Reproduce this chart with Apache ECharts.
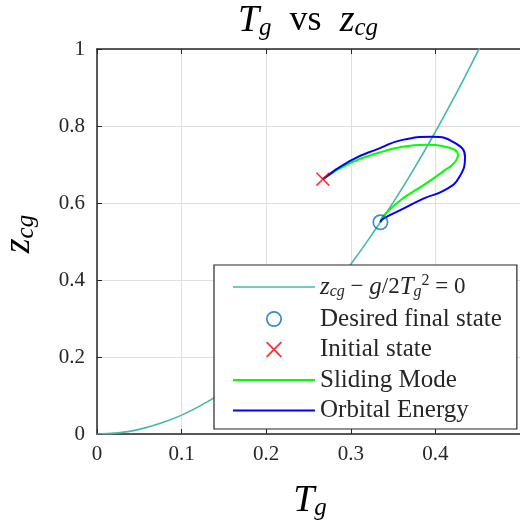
<!DOCTYPE html>
<html lang="en">
<head>
    <meta charset="UTF-8">
    <title>Tg vs zcg</title>
    <style>
        * { margin: 0; padding: 0; box-sizing: border-box; }
        body { background: #fff; }
        #chart { width: 520px; height: 526px; }
    </style>
</head>
<body>
    <div id="chart"></div>

    <script src="https://cdn.jsdelivr.net/npm/echarts@6/dist/echarts.min.js"></script>
    <script>
    // data
    const curveT = [0, 0.025, 0.05, 0.075, 0.1, 0.125, 0.15, 0.175, 0.2, 0.225, 0.25, 0.275, 0.3, 0.325, 0.35, 0.375, 0.4, 0.425, 0.45, 0.46];
    const curveZ = [0, 0.003, 0.012, 0.028, 0.049, 0.077, 0.11, 0.15, 0.196, 0.248, 0.307, 0.371, 0.441, 0.518, 0.601, 0.69, 0.785, 0.886, 0.993, 1.038];

    const finalState = [0.335, 0.55];
    const initialState = [0.267, 0.662];

    const slidingT = [0.267, 0.2986, 0.3338, 0.361, 0.388, 0.4158, 0.4267, 0.4217, 0.4118, 0.3865, 0.359, 0.3376, 0.335];
    const slidingZ = [0.662, 0.703, 0.731, 0.746, 0.751, 0.744, 0.725, 0.703, 0.686, 0.647, 0.608, 0.564, 0.55];

    const orbitalT = [0.267, 0.2986, 0.3338, 0.361, 0.396, 0.423, 0.435, 0.4276, 0.4115, 0.3865, 0.359, 0.3376, 0.335];
    const orbitalZ = [0.662, 0.709, 0.742, 0.764, 0.772, 0.756, 0.720, 0.665, 0.634, 0.612, 0.582, 0.558, 0.55];

    const xTicks = [0, 0.1, 0.2, 0.3, 0.4, 0.5];
    const yTicks = [0, 0.2, 0.4, 0.6, 0.8, 1];

    const NAMES = ['z_cg - g/2T_g^2 = 0', 'Desired final state', 'Initial state', 'Sliding Mode', 'Orbital Energy'];

    const zip = (a, b) => a.map((v, i) => [v, b[i]]);

    const FONT = 'Liberation Serif';
    const INK = '#262626';
    const RING = 'path://M8,0A8,8 0 1,1 8,16A8,8 0 1,1 8,0ZM8,1.7A6.3,6.3 0 1,0 8,14.3A6.3,6.3 0 1,0 8,1.7Z';
    const CROSS = 'path://M0,1L1,0L6,5L11,0L12,1L7,6L12,11L11,12L6,7L1,12L0,11L5,6Z';
    const lineIcon = (w) => 'path://M0,0L82,0L82,' + w + 'L0,' + w + 'Z';

    const mathRich = (size, sub) => ({
        i: { fontFamily: FONT, fontStyle: 'italic', fontSize: size, lineHeight: size, color: INK },
        r: { fontFamily: FONT, fontSize: size - 2, lineHeight: size, color: INK },
        s: { fontFamily: FONT, fontStyle: 'italic', fontSize: sub, lineHeight: sub, padding: [Math.round(sub * 0.55), 0, 0, 0], color: INK },
        p: { fontFamily: FONT, fontSize: sub, lineHeight: sub, padding: [0, 0, Math.round(sub * 0.75), 0], color: INK }
    });

    const axisBase = {
        type: 'value',
        axisLine: { show: true, lineStyle: { color: INK, width: 1.5 } },
        axisTick: { show: true, inside: true, length: 5, lineStyle: { color: INK, width: 1 } },
        splitLine: { show: true, lineStyle: { color: '#dfdfdf', width: 1 } },
        axisLabel: { fontFamily: FONT, fontSize: 21, color: INK }
    };

    const chart = echarts.init(document.getElementById('chart'));

    chart.setOption({
        animation: false,
        grid: { left: 97, right: -4, top: 49, bottom: 92 },
        xAxis: [
            Object.assign({}, axisBase, {
                min: xTicks[0], max: xTicks[xTicks.length - 1], interval: 0.1,
                axisLabel: Object.assign({}, axisBase.axisLabel, { margin: 10, showMaxLabel: false })
            }),
            Object.assign({}, axisBase, {
                position: 'top',
                min: xTicks[0], max: xTicks[xTicks.length - 1], interval: 0.1,
                axisLabel: { show: false },
                splitLine: { show: false }
            })
        ],
        yAxis: Object.assign({}, axisBase, {
            min: yTicks[0], max: yTicks[yTicks.length - 1], interval: 0.2,
            axisLabel: Object.assign({}, axisBase.axisLabel, { margin: 12 })
        }),
        legend: {
            left: 214, top: 265,
            orient: 'vertical',
            data: [
                { name: NAMES[0], icon: lineIcon(1.6) },
                { name: NAMES[1] },
                { name: NAMES[2] },
                { name: NAMES[3], icon: lineIcon(2) },
                { name: NAMES[4], icon: lineIcon(2) }
            ],
            itemWidth: 82, itemHeight: 16, itemGap: 5.5,
            symbolKeepAspect: true,
            padding: [8, 15, 6, 19],
            backgroundColor: '#fff',
            borderColor: INK, borderWidth: 1.2, borderRadius: 0,
            selectedMode: false,
            textStyle: { fontFamily: FONT, fontSize: 25, lineHeight: 25, color: INK, rich: mathRich(25, 16) },
            formatter: (name) => name === NAMES[0]
                ? '{i|z}{s|cg}{r| − }{i|g}{r|/2}{i|T}{s|g}{p|2}{r| = 0}'
                : name
        },
        graphic: [
            {
                type: 'text', x: 308, y: 21,
                style: {
                    text: '{i|T}{s|g}{r|  vs  }{i|z}{s|cg}',
                    rich: mathRich(38, 25),
                    align: 'center', verticalAlign: 'middle',
                    textAlign: 'center', textVerticalAlign: 'middle'
                }
            },
            {
                type: 'text', x: 310, y: 501,
                style: {
                    text: '{i|T}{s|g}',
                    rich: mathRich(38, 25),
                    align: 'center', verticalAlign: 'middle',
                    textAlign: 'center', textVerticalAlign: 'middle'
                }
            },
            {
                type: 'text', x: 19, y: 234, rotation: Math.PI / 2,
                style: {
                    text: '{i|z}{s|cg}',
                    rich: mathRich(38, 25),
                    align: 'center', verticalAlign: 'middle',
                    textAlign: 'center', textVerticalAlign: 'middle'
                }
            }
        ],
        series: [
            {
                name: NAMES[0], type: 'line', data: zip(curveT, curveZ),
                smooth: true, symbol: 'none', clip: true,
                lineStyle: { color: '#45b8a6', width: 1.6 }, itemStyle: { color: '#45b8a6' }
            },
            {
                name: NAMES[1], type: 'scatter', data: [finalState],
                symbol: RING, symbolSize: 16, z: 4,
                itemStyle: { color: '#0072bd' }
            },
            {
                name: NAMES[2], type: 'scatter', data: [initialState],
                symbol: CROSS, symbolSize: 14, z: 4,
                itemStyle: { color: '#ff0000' }
            },
            {
                name: NAMES[3], type: 'line', data: zip(slidingT, slidingZ),
                smooth: true, symbol: 'none',
                lineStyle: { color: '#00ff00', width: 2 }, itemStyle: { color: '#00ff00' }
            },
            {
                name: NAMES[4], type: 'line', data: zip(orbitalT, orbitalZ),
                smooth: true, symbol: 'none',
                lineStyle: { color: '#0000ff', width: 2 }, itemStyle: { color: '#0000ff' }
            }
        ]
    });
    </script>
</body>
</html>
